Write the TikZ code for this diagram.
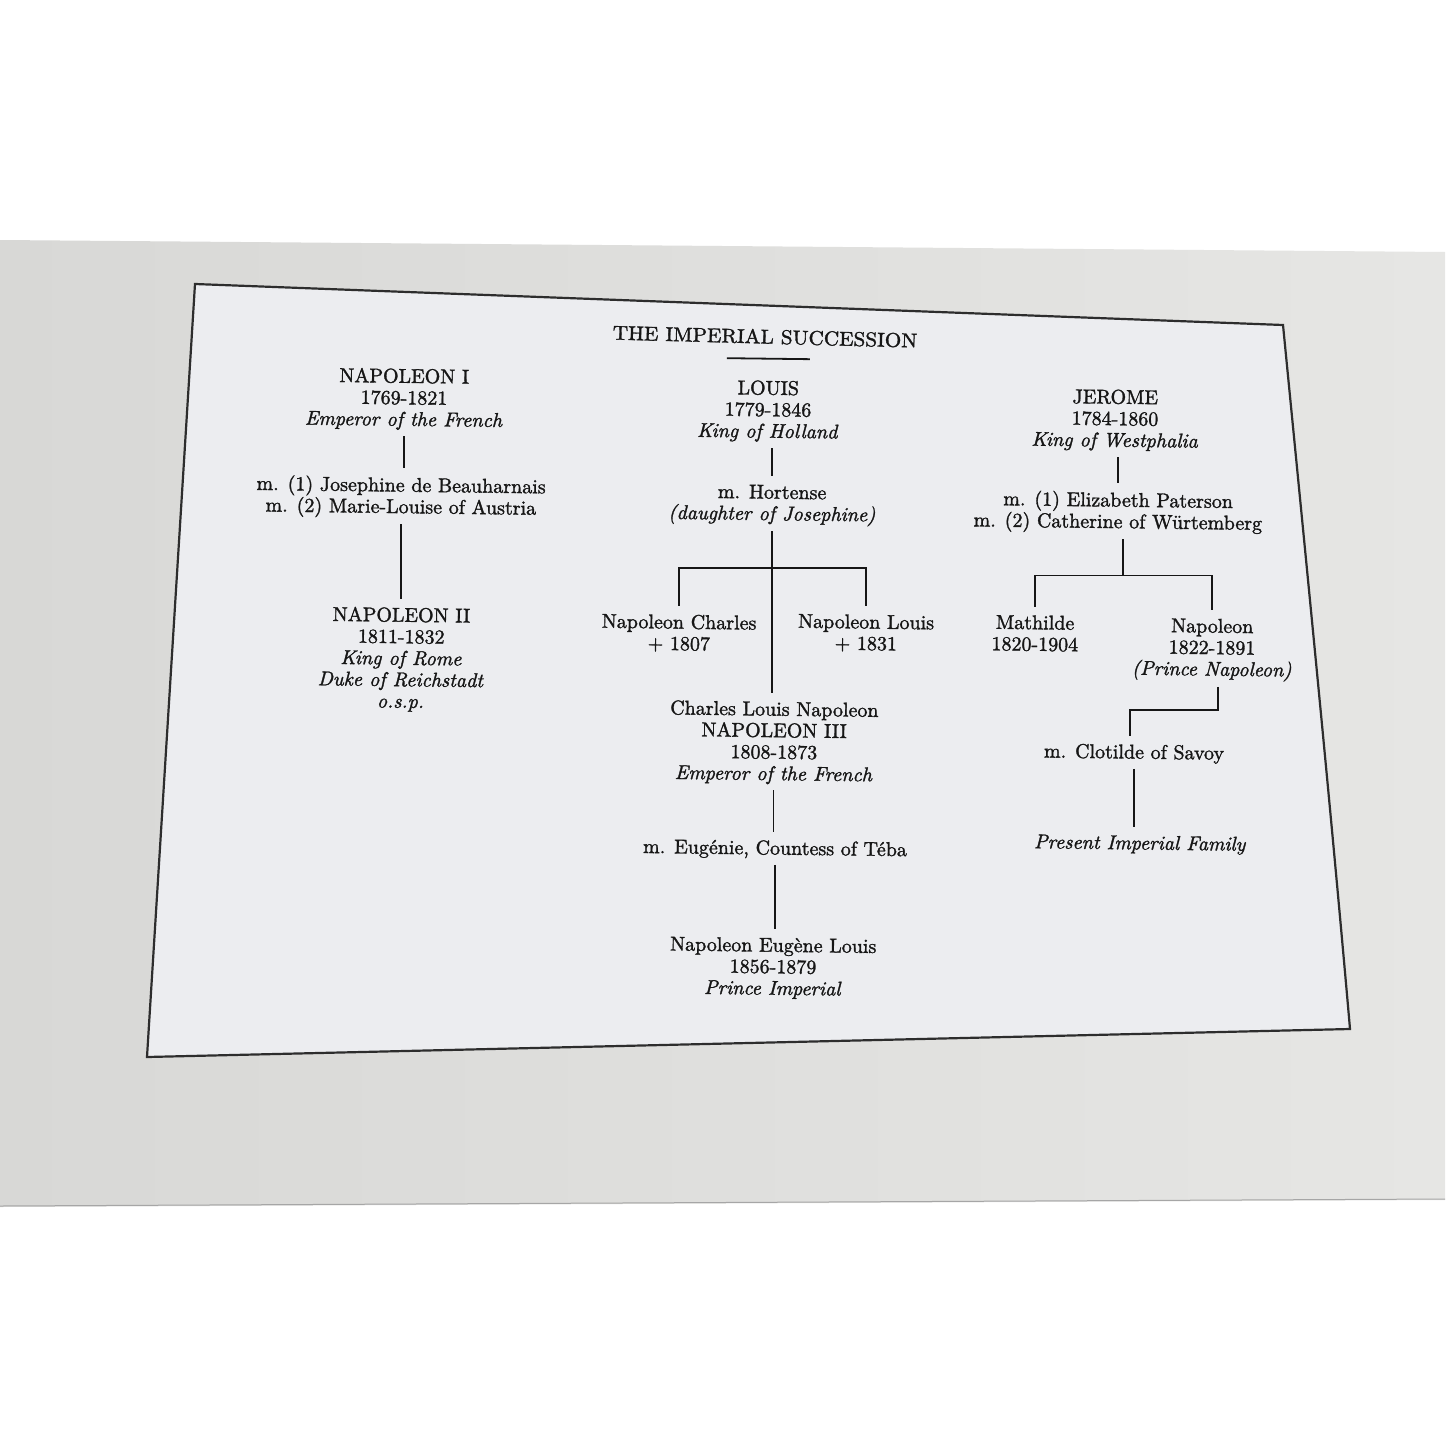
\documentclass[tikz,border=0pt]{standalone}
\usepackage{fontspec}
\setmainfont{lmroman10-regular.otf}[
  ItalicFont=lmroman10-italic.otf,
  BoldFont=lmroman10-bold.otf,
  FakeBold=1.5]
\definecolor{ink}{HTML}{161616}
\definecolor{pageL}{HTML}{D8D8D6}
\definecolor{pageR}{HTML}{E6E6E4}
\definecolor{inner}{HTML}{ECEDF0}
\begin{document}
\begin{tikzpicture}[x=1pt,y=-1pt,
  every node/.style={inner sep=0pt, text=ink, align=center, rotate=-0.7,
    font=\fontsize{20}{21.5}\selectfont},
  link/.style={draw=ink, line width=1.8pt, shorten <=6pt, shorten >=8.5pt},
  drop/.style={draw=ink, line width=1.8pt, shorten <=8.5pt, shorten >=8.5pt},
  frame/.style={draw=ink!90, line width=2.2pt, line join=miter},
]
\useasboundingbox (0,0) rectangle (1445,1445);
% photo background: white surround, page, framed panel
\fill[white] (0,0) rectangle (1445,1445);
\shade[left color=pageL, right color=pageR] (0,240) -- (1445,252) -- (1445,1200) -- (0,1207) -- cycle;
\draw[gray!70, line width=1pt] (0,1206) -- (1445,1199);
\draw[frame, fill=inner] (195,284) -- (1283,325) .. controls (1306,560) and (1330,800) .. (1350,1029) -- (147,1057) -- cycle;

% title
\node[rotate=-0.8, xscale=1.06] (title) at (765,336.6) {THE IMPERIAL SUCCESSION};
\draw[ink, line width=1.8pt] ([shift={(-38,14)}]title.south) -- ([shift={(45,15)}]title.south);

% Napoleon I branch
\node (nap1) at (404,399.2) {NAPOLEON I\\1769-1821\\\textit{Emperor of the French}};
\node (m1) at (401,497.4) {m. (1) Josephine de Beauharnais\\m. (2) Marie-Louise of Austria};
\node (nap2) at (401,659.5) {NAPOLEON II\\1811-1832\\\textit{King of Rome}\\\textit{Duke of Reichstadt}\\\textit{o.s.p.}};
\draw[link] (nap1.south) -- (nap1.south |- m1.north);
\draw[link] (m1.south) -- (m1.south |- nap2.north);

% Louis branch
\node (louis) at (768,411.2) {LOUIS\\1779-1846\\\textit{King of Holland}};
\node (hort) at (772,505.1) {m. Hortense\\\textit{(daughter of Josephine)}};
\node (nc) at (679,633.2) {Napoleon Charles\\+ 1807};
\node (nl) at (866,633.2) {Napoleon Louis\\+ 1831};
\node (n3) at (774,742.9) {Charles Louis Napoleon\\NAPOLEON III\\1808-1873\\\textit{Emperor of the French}};
\node (eug) at (775,849.6) {m. Eug\'enie, Countess of T\'eba};
\node (pi) at (773,968.2) {Napoleon Eug\`ene Louis\\1856-1879\\\textit{Prince Imperial}};
\coordinate (lbar) at (772,568);
\draw[link] (louis.south -| hort.north) -- (hort.north);
\draw[link] (hort.south) -- (hort.south |- n3.north);
\draw[drop] (nc.north) |- (lbar) -| (nl.north);
\draw[link] (n3.south) -- (n3.south |- eug.north);
\draw[link] (eug.south) -- (eug.south |- pi.north);

% Jerome branch
\node (jer) at (1115,420.2) {JEROME\\1784-1860\\\textit{King of Westphalia}};
\node (m2) at (1118,512.4) {m. (1) Elizabeth Paterson\\m. (2) Catherine of W\"urtemberg};
\node (mat) at (1035,633.3) {Mathilde\\1820-1904};
\node (pn) at (1212,649.7) {Napoleon\\1822-1891\\\textit{(Prince Napoleon)}};
\node (clo) at (1134,753.6) {m. Clotilde of Savoy};
\node (pif) at (1140,844.6) {\textit{Present Imperial Family}};
\coordinate (jbar) at (1123,575.5);
\coordinate (pbar) at (1130,710);
\draw[link] (jer.south -| m2.north) -- (m2.north);
\draw[link, shorten >=0pt] (m2.south -| jbar) -- (jbar);
\draw[drop] (mat.north) |- (jbar) -| (pn.north);
\draw[link] ([xshift=6pt]pn.south) |- (pbar) -- (pbar |- clo.north);
\draw[link] (clo.south) -- (clo.south |- pif.north);
\end{tikzpicture}
\end{document}
